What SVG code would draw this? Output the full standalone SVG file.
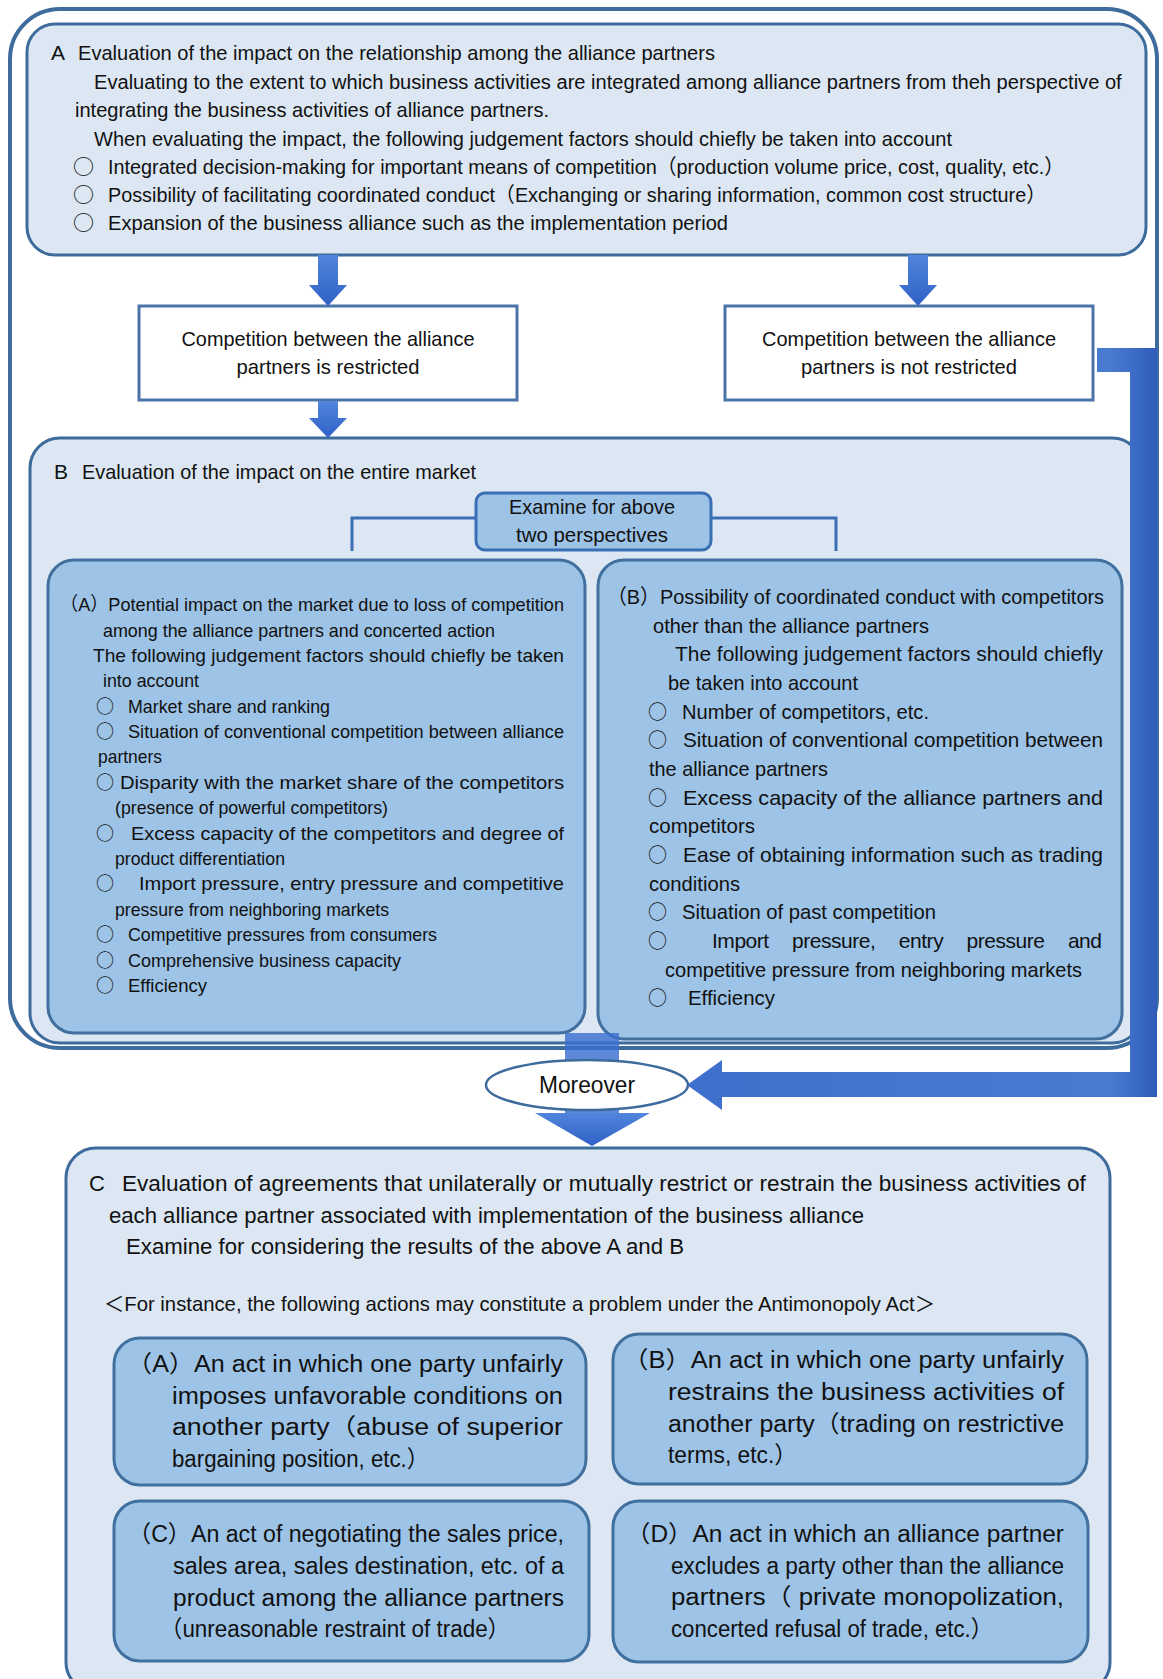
<svg xmlns="http://www.w3.org/2000/svg" width="1163" height="1679" viewBox="0 0 1163 1679">
<defs>
<style>
.t{font-family:"Liberation Sans","Noto Sans CJK JP",sans-serif;fill:#111}
.b{font-family:"Noto Sans CJK JP",sans-serif;fill:#111}
.fa{font-size:21px}
.fi{font-size:19px}
.fj{font-size:21px}
.fc{font-size:22px}
.fd{font-size:23.5px}
.light{fill:#dce7f3;stroke:#3d6b9c;stroke-width:3}
.mid{fill:#9dc3e6;stroke:#41709f;stroke-width:3}
.white{fill:#fff;stroke:#4a74a8;stroke-width:3}
.arr{fill:url(#ag)}
</style>
<linearGradient id="ag" x1="0" y1="0" x2="0" y2="1">
<stop offset="0" stop-color="#5285dc"/>
<stop offset="1" stop-color="#2f61c6"/>
</linearGradient>
<linearGradient id="lg" x1="0" y1="0" x2="1" y2="0">
<stop offset="0" stop-color="#3f6fcc"/>
<stop offset="0.9" stop-color="#4a7bd2"/>
<stop offset="1" stop-color="#2e5cb8"/>
</linearGradient>
</defs>
<rect width="1163" height="1679" fill="#fff"/>

<g id="outer-frame">
<rect x="10" y="9" width="1147" height="1039" rx="50" fill="#fff" stroke="#3e6c9c" stroke-width="4"/>
</g>

<g id="node-A">
<rect class="light" x="27" y="24" width="1119" height="231" rx="28"/>
<text class="t fa" x="51" y="60">A</text>
<text class="t fa" x="78" y="60" textLength="637" lengthAdjust="spacingAndGlyphs">Evaluation of the impact on the relationship among the alliance partners</text>
<text class="t fa" transform="translate(94 89) scale(0.86 1)" x="0" y="0" textLength="1195" lengthAdjust="spacingAndGlyphs">Evaluating to the extent to which business activities are integrated among alliance partners from theh perspective of</text>
<text class="t fa" x="75" y="117" textLength="474" lengthAdjust="spacingAndGlyphs">integrating the business activities of alliance partners.</text>
<text class="t fa" x="94" y="146" textLength="858" lengthAdjust="spacingAndGlyphs">When evaluating the impact, the following judgement factors should chiefly be taken into account</text>
<text class="b" font-size="21" x="73" y="174">○</text>
<text class="t fa" x="108" y="174" textLength="956" lengthAdjust="spacingAndGlyphs">Integrated decision-making for important means of competition（production volume price, cost, quality, etc.）</text>
<text class="b" font-size="21" x="73" y="202">○</text>
<text class="t fa" x="108" y="202" textLength="938" lengthAdjust="spacingAndGlyphs">Possibility of facilitating coordinated conduct（Exchanging or sharing information, common cost structure）</text>
<text class="b" font-size="21" x="73" y="230">○</text>
<text class="t fa" x="108" y="230" textLength="620" lengthAdjust="spacingAndGlyphs">Expansion of the business alliance such as the implementation period</text>
</g>

<g id="node-restricted">
<rect class="white" x="139" y="306" width="378" height="94"/>
<text class="t fa" x="328" y="346" text-anchor="middle" textLength="293" lengthAdjust="spacingAndGlyphs">Competition between the alliance</text>
<text class="t fa" x="328" y="374" text-anchor="middle" textLength="183" lengthAdjust="spacingAndGlyphs">partners is restricted</text>
</g>

<g id="node-not-restricted">
<rect class="white" x="725" y="306" width="368" height="94"/>
<text class="t fa" x="909" y="346" text-anchor="middle" textLength="294" lengthAdjust="spacingAndGlyphs">Competition between the alliance</text>
<text class="t fa" x="909" y="374" text-anchor="middle" textLength="216" lengthAdjust="spacingAndGlyphs">partners is not restricted</text>
</g>

<g id="node-B">
<rect class="light" x="30" y="438" width="1112" height="605" rx="30"/>
<text class="t fa" x="54" y="479">B</text>
<text class="t fa" x="82" y="479" textLength="394" lengthAdjust="spacingAndGlyphs">Evaluation of the impact on the entire market</text>
</g>

<g id="node-examine">
<path d="M476 518 H352 V551 M711 518 H836 V551" fill="none" stroke="#3a6fb5" stroke-width="3"/>
<rect class="mid" x="476" y="493" width="235" height="57" rx="9" style="stroke:#3a6fb5"/>
<text class="t fj" x="592" y="514" text-anchor="middle" textLength="166" lengthAdjust="spacingAndGlyphs">Examine for above</text>
<text class="t fj" x="592" y="542" text-anchor="middle" textLength="152" lengthAdjust="spacingAndGlyphs">two perspectives</text>
</g>

<g id="node-B-A">
<rect class="mid" x="48" y="560" width="537" height="473" rx="26"/>
<text class="t fi" x="60" y="611" textLength="504" lengthAdjust="spacingAndGlyphs">（A）Potential impact on the market due to loss of competition</text>
<text class="t fi" x="103" y="637" textLength="392" lengthAdjust="spacingAndGlyphs">among the alliance partners and concerted action</text>
<text class="t fi" x="93" y="662" textLength="471" lengthAdjust="spacingAndGlyphs">The following judgement factors should chiefly be taken</text>
<text class="t fi" x="103" y="687" textLength="96" lengthAdjust="spacingAndGlyphs">into account</text>
<text class="b" font-size="18" x="96" y="713">○</text>
<text class="t fi" x="128" y="713" textLength="202" lengthAdjust="spacingAndGlyphs">Market share and ranking</text>
<text class="b" font-size="18" x="96" y="738">○</text>
<text class="t fi" x="128" y="738" textLength="436" lengthAdjust="spacingAndGlyphs">Situation of conventional competition between alliance</text>
<text class="t fi" x="98" y="763" textLength="64" lengthAdjust="spacingAndGlyphs">partners</text>
<text class="b" font-size="18" x="96" y="789">○</text>
<text class="t fi" x="120" y="789" textLength="444" lengthAdjust="spacingAndGlyphs">Disparity with the market share of the competitors</text>
<text class="t fi" x="115" y="814" textLength="273" lengthAdjust="spacingAndGlyphs">(presence of powerful competitors)</text>
<text class="b" font-size="18" x="96" y="840">○</text>
<text class="t fi" x="131" y="840" textLength="433" lengthAdjust="spacingAndGlyphs">Excess capacity of the competitors and degree of</text>
<text class="t fi" x="115" y="865" textLength="170" lengthAdjust="spacingAndGlyphs">product differentiation</text>
<text class="b" font-size="18" x="96" y="890">○</text>
<text class="t fi" x="139" y="890" textLength="425" lengthAdjust="spacingAndGlyphs">Import pressure, entry pressure and competitive</text>
<text class="t fi" x="115" y="916" textLength="274" lengthAdjust="spacingAndGlyphs">pressure from neighboring markets</text>
<text class="b" font-size="18" x="96" y="941">○</text>
<text class="t fi" x="128" y="941" textLength="309" lengthAdjust="spacingAndGlyphs">Competitive pressures from consumers</text>
<text class="b" font-size="18" x="96" y="967">○</text>
<text class="t fi" x="128" y="967" textLength="273" lengthAdjust="spacingAndGlyphs">Comprehensive business capacity</text>
<text class="b" font-size="18" x="96" y="992">○</text>
<text class="t fi" x="128" y="992" textLength="79" lengthAdjust="spacingAndGlyphs">Efficiency</text>
</g>

<g id="node-B-B">
<rect class="mid" x="598" y="560" width="524" height="479" rx="26"/>
<text class="t fj" x="607" y="604" textLength="497" lengthAdjust="spacingAndGlyphs">（B）Possibility of coordinated conduct with competitors</text>
<text class="t fj" x="653" y="633" textLength="276" lengthAdjust="spacingAndGlyphs">other than the alliance partners</text>
<text class="t fj" x="675" y="661" textLength="428" lengthAdjust="spacingAndGlyphs">The following judgement factors should chiefly</text>
<text class="t fj" x="668" y="690" textLength="190" lengthAdjust="spacingAndGlyphs">be taken into account</text>
<text class="b" font-size="19" x="648" y="719">○</text>
<text class="t fj" x="682" y="719" textLength="247" lengthAdjust="spacingAndGlyphs">Number of competitors, etc.</text>
<text class="b" font-size="19" x="648" y="747">○</text>
<text class="t fj" x="683" y="747" textLength="420" lengthAdjust="spacingAndGlyphs">Situation of conventional competition between</text>
<text class="t fj" x="649" y="776" textLength="179" lengthAdjust="spacingAndGlyphs">the alliance partners</text>
<text class="b" font-size="19" x="648" y="805">○</text>
<text class="t fj" x="683" y="805" textLength="420" lengthAdjust="spacingAndGlyphs">Excess capacity of the alliance partners and</text>
<text class="t fj" x="649" y="833" textLength="106" lengthAdjust="spacingAndGlyphs">competitors</text>
<text class="b" font-size="19" x="648" y="862">○</text>
<text class="t fj" x="683" y="862" textLength="420" lengthAdjust="spacingAndGlyphs">Ease of obtaining information such as trading</text>
<text class="t fj" x="649" y="891" textLength="91" lengthAdjust="spacingAndGlyphs">conditions</text>
<text class="b" font-size="19" x="648" y="919">○</text>
<text class="t fj" x="682" y="919" textLength="254" lengthAdjust="spacingAndGlyphs">Situation of past competition</text>
<text class="b" font-size="19" x="648" y="948">○</text>
<text class="t fj" x="712" y="948" textLength="390" lengthAdjust="spacing" word-spacing="18">Import pressure, entry pressure and</text>
<text class="t fj" x="665" y="977" textLength="417" lengthAdjust="spacingAndGlyphs">competitive pressure from neighboring markets</text>
<text class="b" font-size="19" x="648" y="1005">○</text>
<text class="t fj" x="688" y="1005" textLength="87" lengthAdjust="spacingAndGlyphs">Efficiency</text>
</g>

<g id="connectors">
<path class="arr" d="M318 255 H338 V285 H347 L328 306 L309 285 H318 Z"/>
<path class="arr" d="M908 255 H928 V285 H937 L918 306 L899 285 H908 Z"/>
<path class="arr" d="M318 401 H338 V418 H347 L328 438 L309 418 H318 Z"/>
<rect x="565" y="1033" width="54" height="82" fill="#3b6fd0" opacity="0.82"/>
<path class="arr" d="M535 1113 H650 L592 1146 Z"/>
<path fill="url(#lg)" d="M1097 348 H1157 V1097 H722 V1110 L687 1085 L722 1060 V1072 H1130 V372 H1097 Z"/>
</g>

<g id="node-moreover">
<ellipse cx="587" cy="1085" rx="101" ry="25" fill="#fff" stroke="#3d6b9c" stroke-width="2.5"/>
<text class="t" font-size="23" x="587" y="1093" text-anchor="middle" textLength="96" lengthAdjust="spacingAndGlyphs">Moreover</text>
</g>

<g id="node-C">
<rect class="light" x="66" y="1148" width="1044" height="544" rx="30"/>
<text class="t fc" x="89" y="1191">C</text>
<text class="t fc" transform="translate(122 1191) scale(0.9 1)" x="0" y="0" textLength="1071" lengthAdjust="spacingAndGlyphs">Evaluation of agreements that unilaterally or mutually restrict or restrain the business activities of</text>
<text class="t fc" x="109" y="1223" textLength="755" lengthAdjust="spacingAndGlyphs">each alliance partner associated with implementation of the business alliance</text>
<text class="t fc" x="126" y="1254" textLength="558" lengthAdjust="spacingAndGlyphs">Examine for considering the results of the above A and B</text>
<text class="t" font-size="21" x="104" y="1311" textLength="831" lengthAdjust="spacingAndGlyphs">＜For instance, the following actions may constitute a problem under the Antimonopoly Act＞</text>
</g>

<g id="node-C-A">
<rect class="mid" x="114" y="1338" width="472" height="147" rx="26"/>
<text class="t fd" x="127" y="1372" textLength="436" lengthAdjust="spacingAndGlyphs">（A）An act in which one party unfairly</text>
<text class="t fd" x="172" y="1404" textLength="391" lengthAdjust="spacingAndGlyphs">imposes unfavorable conditions on</text>
<text class="t fd" x="172" y="1435" textLength="391" lengthAdjust="spacingAndGlyphs">another party（abuse of superior</text>
<text class="t fd" x="172" y="1467" textLength="257" lengthAdjust="spacingAndGlyphs">bargaining position, etc.）</text>
</g>

<g id="node-C-B">
<rect class="mid" x="613" y="1334" width="474" height="150" rx="26"/>
<text class="t fd" x="623" y="1368" textLength="441" lengthAdjust="spacingAndGlyphs">（B）An act in which one party unfairly</text>
<text class="t fd" x="668" y="1400" textLength="396" lengthAdjust="spacingAndGlyphs">restrains the business activities of</text>
<text class="t fd" x="668" y="1432" textLength="396" lengthAdjust="spacingAndGlyphs">another party（trading on restrictive</text>
<text class="t fd" x="668" y="1463" textLength="129" lengthAdjust="spacingAndGlyphs">terms, etc.）</text>
</g>

<g id="node-C-C">
<rect class="mid" x="114" y="1501" width="475" height="160" rx="26"/>
<text class="t fd" x="128" y="1542" textLength="436" lengthAdjust="spacingAndGlyphs">（C）An act of negotiating the sales price,</text>
<text class="t fd" x="173" y="1574" textLength="391" lengthAdjust="spacingAndGlyphs">sales area, sales destination, etc. of a</text>
<text class="t fd" x="173" y="1606" textLength="391" lengthAdjust="spacingAndGlyphs">product among the alliance partners</text>
<text class="t fd" x="160" y="1637" textLength="350" lengthAdjust="spacingAndGlyphs">（unreasonable restraint of trade）</text>
</g>

<g id="node-C-D">
<rect class="mid" x="613" y="1501" width="475" height="161" rx="26"/>
<text class="t fd" x="626" y="1542" textLength="438" lengthAdjust="spacingAndGlyphs">（D）An act in which an alliance partner</text>
<text class="t fd" x="671" y="1574" textLength="393" lengthAdjust="spacingAndGlyphs">excludes a party other than the alliance</text>
<text class="t fd" x="671" y="1605" textLength="393" lengthAdjust="spacingAndGlyphs">partners（ private monopolization,</text>
<text class="t fd" x="671" y="1637" textLength="322" lengthAdjust="spacingAndGlyphs">concerted refusal of trade, etc.）</text>
</g>
</svg>
